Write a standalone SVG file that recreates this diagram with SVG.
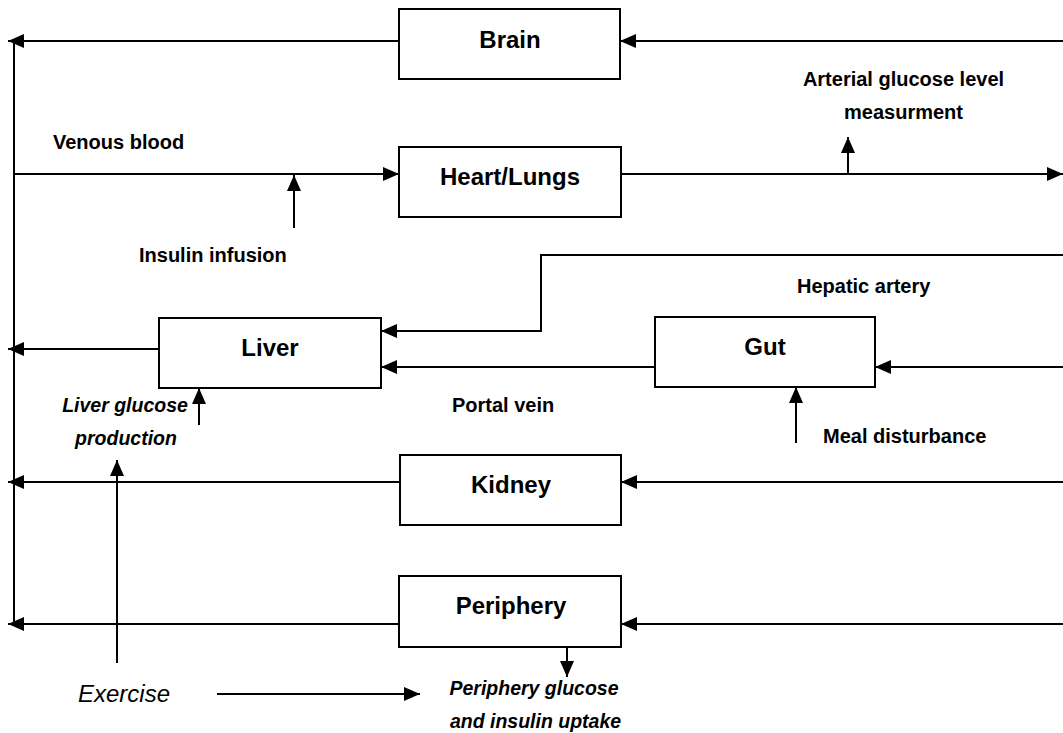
<svg xmlns="http://www.w3.org/2000/svg" width="1063" height="733" viewBox="0 0 1063 733">
  <style>
    .box { fill: #ffffff; stroke: #000000; stroke-width: 2; }
    .name { font-family: "Liberation Sans", Arial, sans-serif; font-weight: bold; font-size: 24px; text-anchor: middle; fill: #000000; }
    .lbl { font-family: "Liberation Sans", Arial, sans-serif; font-weight: bold; font-size: 20px; fill: #000000; }
    .ital { font-family: "Liberation Sans", Arial, sans-serif; font-weight: bold; font-style: italic; font-size: 19.5px; text-anchor: middle; fill: #000000; }
    .ex { font-family: "Liberation Sans", Arial, sans-serif; font-style: italic; font-size: 24px; fill: #000000; }
    .wire { fill: none; stroke: #000000; stroke-width: 2; }
    .arr { fill: none; stroke: #000000; stroke-width: 2; marker-end: url(#head); }
  </style>
  <defs>
    <marker id="head" markerUnits="userSpaceOnUse" markerWidth="16" markerHeight="14" refX="16" refY="7" orient="auto">
      <path d="M0,0 L16,7 L0,14 Z" fill="#000000"/>
    </marker>
  </defs>
  <rect width="1063" height="733" fill="#ffffff"/>

  <!-- flows between organs -->
  <g id="connectors">
    <!-- venous return bus -->
    <line class="wire" x1="14" y1="41" x2="14" y2="624"/>
    <line class="arr" x1="399" y1="41" x2="8" y2="41"/>
    <line class="arr" x1="1063" y1="41" x2="620" y2="41"/>
    <line class="arr" x1="14" y1="174" x2="399" y2="174"/>
    <line class="arr" x1="621" y1="174" x2="1063" y2="174"/>
    <line class="arr" x1="848" y1="174" x2="848" y2="137"/>
    <line class="arr" x1="294" y1="228" x2="294" y2="175"/>
    <polyline class="arr" points="1063,255 541,255 541,331 381,331"/>
    <line class="arr" x1="159" y1="349" x2="8" y2="349"/>
    <line class="arr" x1="655" y1="367" x2="381" y2="367"/>
    <line class="arr" x1="1063" y1="367" x2="875" y2="367"/>
    <line class="arr" x1="796" y1="443" x2="796" y2="387"/>
    <line class="arr" x1="199" y1="425" x2="199" y2="388"/>
    <line class="arr" x1="117" y1="663" x2="117" y2="460"/>
    <line class="arr" x1="400" y1="482" x2="8" y2="482"/>
    <line class="arr" x1="1063" y1="482" x2="621" y2="482"/>
    <line class="arr" x1="399" y1="624" x2="8" y2="624"/>
    <line class="arr" x1="1063" y1="624" x2="621" y2="624"/>
    <line class="arr" x1="567" y1="647" x2="567" y2="677"/>
    <line class="arr" x1="217" y1="694" x2="420" y2="694"/>
  </g>

  <g id="brain">
    <rect class="box" x="399" y="9" width="221" height="70"/>
    <text class="name" x="510" y="48">Brain</text>
  </g>
  <g id="heart-lungs">
    <rect class="box" x="399" y="147" width="222" height="70"/>
    <text class="name" x="510" y="185">Heart/Lungs</text>
  </g>
  <g id="liver">
    <rect class="box" x="159" y="318" width="222" height="70"/>
    <text class="name" x="270" y="356">Liver</text>
  </g>
  <g id="gut">
    <rect class="box" x="655" y="317" width="220" height="70"/>
    <text class="name" x="765" y="355">Gut</text>
  </g>
  <g id="kidney">
    <rect class="box" x="400" y="455" width="221" height="70"/>
    <text class="name" x="511" y="493">Kidney</text>
  </g>
  <g id="periphery">
    <rect class="box" x="399" y="576" width="222" height="71"/>
    <text class="name" x="511" y="614">Periphery</text>
  </g>

  <!-- flow and signal labels -->
  <g id="labels">
    <text class="lbl" x="53" y="149">Venous blood</text>
    <text class="lbl" x="903.5" y="86" text-anchor="middle">Arterial glucose level</text>
    <text class="lbl" x="903.5" y="119" text-anchor="middle">measurment</text>
    <text class="lbl" x="139" y="262">Insulin infusion</text>
    <text class="lbl" x="797" y="293">Hepatic artery</text>
    <text class="lbl" x="452" y="412">Portal vein</text>
    <text class="lbl" x="823" y="443">Meal disturbance</text>
    <text class="ital" x="125" y="412">Liver glucose</text>
    <text class="ital" x="126" y="445">production</text>
    <text class="ital" x="534" y="695">Periphery glucose</text>
    <text class="ital" x="535.5" y="728">and insulin uptake</text>
    <text class="ex" x="78" y="702">Exercise</text>
  </g>
</svg>
